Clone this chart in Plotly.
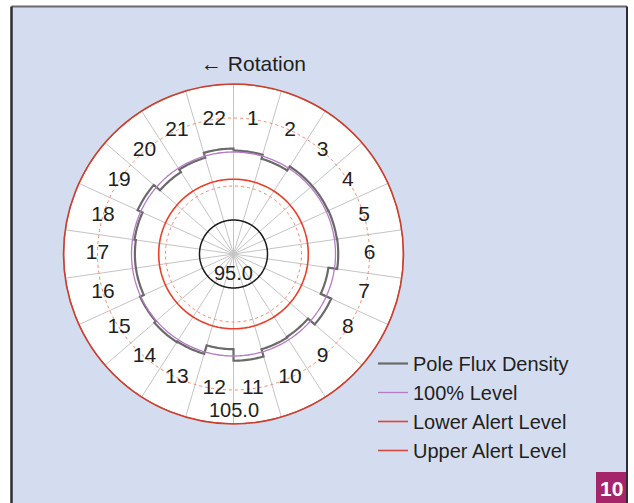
import plotly.graph_objects as go

W, H = 634, 503
FONT = "Arial, Liberation Sans, Helvetica, sans-serif"
TEXT = "#231f20"
BG = "#d4ddef"

# pole flux density per pole (% of nominal)
POLES = list(range(1, 23))
FLUX = [100.2, 99.6, 100.3, 100.3, 100.35, 100.4, 99.1, 100.8, 99.5, 99.6, 100.7,
        99.0, 100.3, 100.4, 100.1, 99.5, 99.5, 99.7, 100.5, 99.3, 99.75, 100.5]
LEVEL_100 = 100.0
LOWER_ALERT = 96.0
UPPER_ALERT = 110.0
INNER_RING = 90.0
R_RANGE = [85, 110]
GRID_TICKS = [95, 105]
TICK_LABELS = ["95.0", "105.0"]
LABEL_R = 105.0

SECTOR = 360 / len(POLES)
STEPS = 16  # samples per sector so the arcs look round


def ring(value, n=361):
    th = [i * 360 / (n - 1) for i in range(n)]
    return th, [value] * n


def step_arcs(values):
    th, rr = [], []
    for i, v in enumerate(values):
        a0 = i * SECTOR
        for k in range(STEPS + 1):
            th.append(a0 + k * SECTOR / STEPS)
            rr.append(v)
    th.append(0)
    rr.append(values[0])
    return th, rr


def px_x(x):
    return x / W


def px_y(y):
    return (H - y) / H


fig = go.Figure()

th, rr = ring(INNER_RING)
fig.add_trace(go.Scatterpolar(theta=th, r=rr, mode="lines", line=dict(color="#1a1a1a", width=1.5),
                              showlegend=False, hoverinfo="skip"))

th, rr = step_arcs(FLUX)
fig.add_trace(go.Scatterpolar(theta=th, r=rr, mode="lines", name="Pole Flux Density",
                              line=dict(color="#6a6a6a", width=2.2)))

th, rr = ring(LEVEL_100)
fig.add_trace(go.Scatterpolar(theta=th, r=rr, mode="lines", name="100% Level",
                              line=dict(color="#b47cc4", width=1.3)))

th, rr = ring(LOWER_ALERT)
fig.add_trace(go.Scatterpolar(theta=th, r=rr, mode="lines", name="Lower Alert Level",
                              line=dict(color="#e8402a", width=1.6)))

th, rr = ring(UPPER_ALERT)
fig.add_trace(go.Scatterpolar(theta=th, r=rr, mode="lines", name="Upper Alert Level",
                              line=dict(color="#d04a3c", width=1.6)))

fig.add_trace(go.Scatterpolar(
    theta=[(p - 0.5) * SECTOR for p in POLES], r=[LABEL_R] * len(POLES),
    mode="text", text=[str(p) for p in POLES], textposition="middle center",
    textfont=dict(family=FONT, size=21, color=TEXT), showlegend=False, hoverinfo="skip"))

fig.update_layout(
    width=W, height=H,
    margin=dict(l=0, r=0, t=0, b=0),
    paper_bgcolor="#ffffff",
    font=dict(family=FONT, color=TEXT, size=20),
    polar=dict(
        domain=dict(x=[px_x(63.5), px_x(403.5)], y=[px_y(424), px_y(84)]),
        bgcolor="#ffffff",
        radialaxis=dict(range=R_RANGE, tickvals=GRID_TICKS, showticklabels=False, ticks="",
                        showline=False, gridcolor="#ee8a70", griddash="dot", gridwidth=1),
        angularaxis=dict(rotation=90, direction="clockwise",
                         tickvals=[i * SECTOR for i in range(len(POLES))],
                         showticklabels=False, ticks="", gridcolor="#c4c4c4", gridwidth=1,
                         linecolor="#c8402f", linewidth=1.6),
    ),
    legend=dict(x=px_x(373), y=px_y(344), xanchor="left", yanchor="top",
                bgcolor="rgba(0,0,0,0)", font=dict(family=FONT, size=20, color=TEXT)),
    shapes=[
        dict(type="rect", xref="paper", yref="paper", x0=px_x(11.5), x1=px_x(627), y0=-0.01, y1=px_y(6.5),
             fillcolor=BG, line=dict(width=0), layer="below"),
        dict(type="line", xref="paper", yref="paper", x0=px_x(11.5), x1=px_x(627), y0=px_y(6.5), y1=px_y(6.5),
             line=dict(color="#6b6b6b", width=2)),
        dict(type="line", xref="paper", yref="paper", x0=px_x(11.5), x1=px_x(11.5), y0=-0.01, y1=px_y(6.5),
             line=dict(color="#2e2e2e", width=2.5)),
        dict(type="line", xref="paper", yref="paper", x0=px_x(627), x1=px_x(627), y0=-0.01, y1=px_y(6.5),
             line=dict(color="#2e2e2e", width=2)),
        dict(type="rect", xref="paper", yref="paper", x0=px_x(596), x1=px_x(626), y0=0, y1=px_y(472),
             fillcolor="#a5246a", line=dict(width=0)),
    ],
    annotations=[
        dict(text="← Rotation", x=px_x(253), y=px_y(63), xref="paper", yref="paper",
             xanchor="center", yanchor="middle", showarrow=False, font=dict(size=21, color=TEXT)),
        dict(text=TICK_LABELS[0], x=px_x(233), y=px_y(273), xref="paper", yref="paper",
             xanchor="center", yanchor="middle", showarrow=False, font=dict(size=20, color=TEXT)),
        dict(text=TICK_LABELS[1], x=px_x(234), y=px_y(410), xref="paper", yref="paper",
             xanchor="center", yanchor="middle", showarrow=False, font=dict(size=20, color=TEXT)),
        dict(text="<b>10</b>", x=px_x(611), y=px_y(488), xref="paper", yref="paper",
             xanchor="center", yanchor="middle", showarrow=False, font=dict(size=21, color="#ffffff")),
    ],
)

fig.write_html("out.html", config={"displayModeBar": False},
               post_script="document.body.style.margin='0';")
